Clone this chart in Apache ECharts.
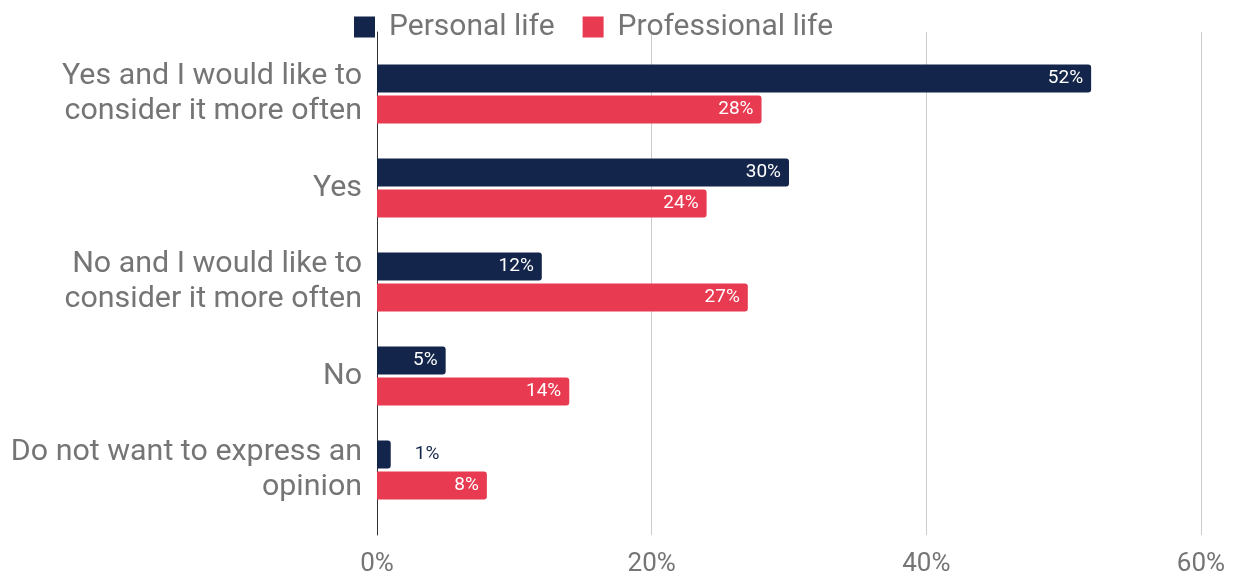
<!DOCTYPE html>
<html>
<head>
<meta charset="utf-8">
<script src="https://cdn.jsdelivr.net/npm/echarts@6/dist/echarts.min.js"></script>
<style>
  html, body { margin: 0; padding: 0; background: #fff; }
  #chart { width: 1236px; height: 577px; }
</style>
</head>
<body>
<div id="chart"></div>
<script>
// Survey answers, top to bottom
const categories = [
  'Yes and I would like to\nconsider it more often',
  'Yes',
  'No and I would like to\nconsider it more often',
  'No',
  'Do not want to express an\nopinion'
];
const seriesNames = ['Personal life', 'Professional life'];
const personalLife = [52, 30, 12, 5, 1];
const professionalLife = [28, 24, 27, 14, 8];
const xTicks = [0, 20, 40, 60];

const NAVY = '#13254a';
const RED = '#e83a51';
const GREY = '#757575';
const FONT = 'Roboto, "Noto Sans", sans-serif';

// Bars too short for an inside label get their label to the right, in the bar colour
function withLabels(values, color) {
  return values.map(v => v < 3
    ? { value: v, label: { position: 'right', distance: 24, color: color } }
    : { value: v });
}

const barLabel = {
  show: true,
  position: 'insideRight',
  distance: 8,
  color: '#ffffff',
  fontFamily: FONT,
  fontSize: 19,
  formatter: p => p.value + '%'
};

const chart = echarts.init(document.getElementById('chart'), null, { renderer: 'canvas' });

chart.setOption({
  animation: false,
  textStyle: { fontFamily: FONT },
  legend: {
    top: 7,
    left: 349,
    itemWidth: 21,
    itemHeight: 21,
    itemGap: 28,
    icon: 'rect',
    textStyle: { color: GREY, fontSize: 30, fontFamily: FONT, padding: [0, 0, 0, 9] },
    data: seriesNames
  },
  grid: [
    // frame: gridlines, axis line and percentage ticks
    { left: 377, right: 35, top: 32, bottom: 42 },
    // bars
    { left: 377, right: 35, top: 47, bottom: 60 }
  ],
  xAxis: [
    {
      gridIndex: 0, type: 'value', min: 0, max: 60, interval: 20,
      axisLine: { show: false }, axisTick: { show: false },
      splitLine: { show: true, lineStyle: { color: '#cccccc', width: 1 } },
      axisLabel: {
        color: GREY, fontSize: 26, fontFamily: FONT, margin: 16,
        formatter: v => xTicks.includes(v) ? v + '%' : ''
      }
    },
    {
      gridIndex: 1, type: 'value', min: 0, max: 60, interval: 20,
      show: false, splitLine: { show: false }
    }
  ],
  yAxis: [
    {
      gridIndex: 0, type: 'category', data: [''],
      axisLine: { show: true, lineStyle: { color: '#333333', width: 1 } },
      axisTick: { show: false }, axisLabel: { show: false },
      splitLine: { show: false }
    },
    {
      gridIndex: 1, type: 'category', data: categories, inverse: true,
      axisLine: { show: false }, axisTick: { show: false },
      axisLabel: {
        color: GREY, fontSize: 30.4, fontFamily: FONT, margin: 15,
        lineHeight: 35, align: 'right', padding: [5, 0, 0, 0]
      }
    }
  ],
  series: [
    {
      name: seriesNames[0], type: 'bar', xAxisIndex: 1, yAxisIndex: 1,
      data: withLabels(personalLife, NAVY),
      barWidth: 28, barGap: '10%',
      itemStyle: { color: NAVY, borderRadius: [0, 3, 3, 0] },
      label: barLabel
    },
    {
      name: seriesNames[1], type: 'bar', xAxisIndex: 1, yAxisIndex: 1,
      data: withLabels(professionalLife, RED),
      barWidth: 28, barGap: '10%',
      itemStyle: { color: RED, borderRadius: [0, 3, 3, 0] },
      label: barLabel
    }
  ]
});
</script>
</body>
</html>
